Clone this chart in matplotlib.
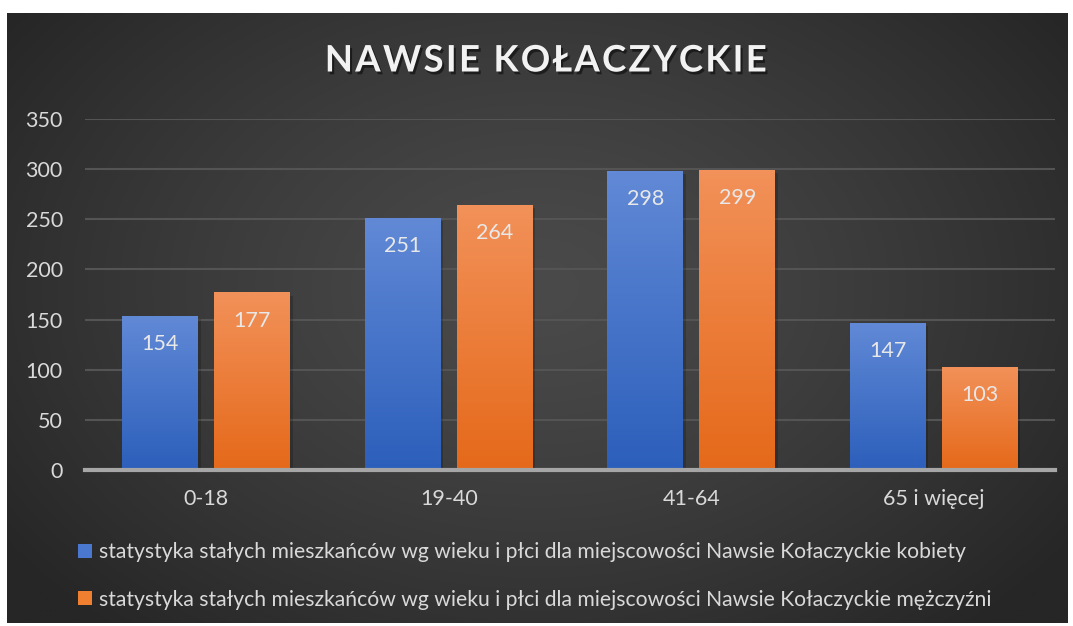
import matplotlib
matplotlib.use("Agg")
import matplotlib.pyplot as plt
import matplotlib.patheffects as pe
import numpy as np
from matplotlib.patches import Patch

plt.rcParams["font.family"] = ["Lato", "DejaVu Sans"]

# data
categories = ["0-18", "19-40", "41-64", "65 i więcej"]
kobiety = [154, 251, 298, 147]
mezczyzni = [177, 264, 299, 103]
labels = [
    "statystyka stałych mieszkańców wg wieku i płci dla miejscowości Nawsie Kołaczyckie kobiety",
    "statystyka stałych mieszkańców wg wieku i płci dla miejscowości Nawsie Kołaczyckie mężczyźni",
]
title = "NAWSIE KOŁACZYCKIE"
yticks = [0, 50, 100, 150, 200, 250, 300, 350]

blue_top, blue_bot = "#6189d6", "#2c5fbb"
orange_top, orange_bot = "#f29159", "#e5691a"
text_col = "#d9d9d9"

W, H = 1073, 626
fig = plt.figure(figsize=(W / 100, H / 100), dpi=100, facecolor="white")

# dark radial background
bg = fig.add_axes([7 / W, 3 / H, 1061 / W, 610 / H])
bg.set_axis_off()
yy, xx = np.mgrid[0:1:300j, 0:1:500j]
r = np.sqrt(((xx - 0.5) / 0.62) ** 2 + ((yy - 0.55) / 0.75) ** 2)
r = np.clip(r, 0, 1)
shade = 0x4a - (0x4a - 0x26) * r ** 1.3
img = np.dstack([shade, shade, shade]) / 255.0
bg.imshow(img, aspect="auto", extent=[0, 1, 0, 1], origin="lower")
bg.set_xlim(0, 1)
bg.set_ylim(0, 1)

ax = fig.add_axes([85 / W, 1 - 470 / H, 970 / W, 351 / H])
ax.set_facecolor("none")
x = np.arange(len(categories))
bw = 0.313
off = 0.19
b1 = ax.bar(x - off, kobiety, bw, color=blue_bot, zorder=3)
b2 = ax.bar(x + off, mezczyzni, bw, color=orange_bot, zorder=3)


def gradient_fill(bars, top, bot):
    c1 = np.array(matplotlib.colors.to_rgb(bot))
    c2 = np.array(matplotlib.colors.to_rgb(top))
    t = np.linspace(0, 1, 100)[:, None]
    grad = (c1 * (1 - t) + c2 * t)[:, None, :]
    for bar in bars:
        x0, y0 = bar.get_x(), bar.get_y()
        w, h = bar.get_width(), bar.get_height()
        # soft shadow
        ax.bar(x0 + w / 2 + 0.01, h, w, bottom=-3, color="black", alpha=0.18, zorder=2)
        im = ax.imshow(grad, extent=[x0, x0 + w, y0, y0 + h], origin="lower",
                       aspect="auto", zorder=4)
        im.set_clip_path(bar)


gradient_fill(b1, blue_top, blue_bot)
gradient_fill(b2, orange_top, orange_bot)
ax.set_xlim(-0.5, len(categories) - 0.5)
ax.set_ylim(0, 350)

for bars, vals in ((b1, kobiety), (b2, mezczyzni)):
    for bar, v in zip(bars, vals):
        ax.text(bar.get_x() + bar.get_width() / 2, v - 28, str(v), ha="center", va="center",
                fontsize=15.5, color="#e8e8e8", zorder=5)

ax.set_yticks(yticks)
ax.set_xticks(x)
ax.set_xticklabels(categories)
ax.tick_params(axis="both", length=0, labelsize=15.5, colors=text_col)
ax.tick_params(axis="y", pad=16)
ax.tick_params(axis="x", pad=14)
ax.grid(axis="y", color="#545454", linewidth=1.5, zorder=0)
for s in ("top", "right", "left"):
    ax.spines[s].set_visible(False)
ax.spines["bottom"].set_color("#a6a6a6")
ax.spines["bottom"].set_linewidth(3)
ax.spines["bottom"].set_zorder(6)

fig.text(545 / W, 1 - 61 / H, "\u200a".join(title), ha="center", va="center", fontsize=26.3,
         fontweight="bold", color="#f2f2f2",
         path_effects=[pe.withSimplePatchShadow(offset=(1.5, -2), shadow_rgbFace="black", alpha=0.5)])

handles = [Patch(facecolor="#4a78cf", edgecolor="none"), Patch(facecolor="#f0802f", edgecolor="none")]
leg = fig.legend(handles, labels, loc="center left", bbox_to_anchor=(78 / W, 1 - 576 / H),
                 frameon=False, fontsize=15.2, labelcolor=text_col, labelspacing=1.3,
                 handlelength=0.65, handleheight=0.65, handletextpad=0.35,
                 borderpad=0, borderaxespad=0)

fig.savefig("out.png", dpi=100, facecolor="white")
